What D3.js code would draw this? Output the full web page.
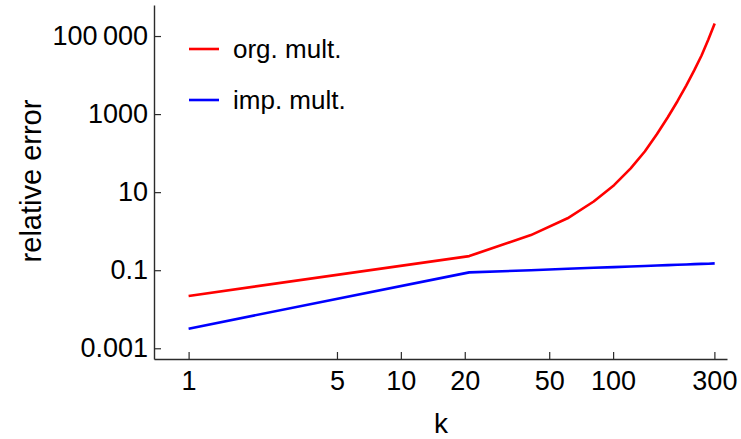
<!DOCTYPE html>
<html>
<head>
<meta charset="utf-8">
<script src="https://cdn.jsdelivr.net/npm/d3@7"></script>
<style>
  html, body { margin: 0; padding: 0; background: #fff; }
  svg { display: block; font-family: "Liberation Sans", Arial, Helvetica, sans-serif; }
</style>
</head>
<body>
<svg id="chart" width="741" height="439"></svg>
<script>
// k values at which the relative error was evaluated
const kValues = [1, 21, 41, 61, 81, 101, 121, 141, 161, 181, 201, 221, 241, 261, 281, 301];

// relative error of the original multiplication
const orgMult = [0.0219, 0.23, 0.794, 2.14, 5.75, 15.1, 40.7, 110, 309, 832, 2138, 5370, 13180, 31620, 81280, 208900];

// relative error of the improved multiplication
const impMult = [0.00318, 0.088, 0.100, 0.109, 0.1156, 0.120, 0.125, 0.128, 0.132, 0.135, 0.138, 0.140, 0.143, 0.145, 0.147, 0.150];

const xTicks = [1, 5, 10, 20, 50, 100, 300];
const yTicks = [0.001, 0.1, 10, 1000, 100000];
const yTickLabels = ["0.001", "0.1", "10", "1000", "100\u2009000"];

const seriesNames = ["org. mult.", "imp. mult."];
const seriesColors = ["#ff0000", "#0000ff"];

const svg = d3.select("#chart");
const axisColor = "#2b2b2b";

const x = d3.scaleLog().domain([0.687, 344]).range([154, 727]);
const y = d3.scaleLog().domain([Math.pow(10, -3.275), Math.pow(10, 5.795)]).range([359, 5]);

// x axis, ticks pointing into the plot
const xAxis = svg.append("g")
  .attr("transform", "translate(0,359)")
  .call(d3.axisBottom(x).tickValues(xTicks).tickFormat(d3.format("d"))
    .tickSizeInner(-7).tickSizeOuter(0).tickPadding(12));

// y axis, ticks pointing into the plot
const yAxis = svg.append("g")
  .attr("transform", "translate(154,0)")
  .call(d3.axisLeft(y).tickValues(yTicks).tickFormat((d, i) => yTickLabels[i])
    .tickSizeInner(-7).tickSizeOuter(0).tickPadding(6));

[xAxis, yAxis].forEach(g => {
  g.select(".domain").attr("stroke", axisColor).attr("stroke-width", 1.4);
  g.selectAll(".tick line").attr("stroke", axisColor).attr("stroke-width", 1.2);
  g.selectAll(".tick text").attr("fill", "#000").style("font-size", "27px")
    .style("font-family", "\"Liberation Sans\", Arial, sans-serif");
});

// axis titles
svg.append("text")
  .attr("x", 441).attr("y", 433)
  .attr("text-anchor", "middle")
  .style("font-size", "28px")
  .text("k");

svg.append("text")
  .attr("transform", "translate(41,181) rotate(-90)")
  .attr("text-anchor", "middle")
  .style("font-size", "29px")
  .text("relative error");

// data lines
const line = d3.line()
  .x(d => x(d[0]))
  .y(d => y(d[1]));

[orgMult, impMult].forEach((vals, i) => {
  svg.append("path")
    .datum(kValues.map((k, j) => [k, vals[j]]))
    .attr("fill", "none")
    .attr("stroke", seriesColors[i])
    .attr("stroke-width", 2.6)
    .attr("stroke-linejoin", "round")
    .attr("d", line);
});

// legend
const legendY = [49, 100];
seriesNames.forEach((name, i) => {
  const g = svg.append("g").attr("transform", `translate(189,${legendY[i]})`);
  g.append("line").attr("x1", 0).attr("x2", 30).attr("y1", 0).attr("y2", 0)
    .attr("stroke", seriesColors[i]).attr("stroke-width", 2.6);
  g.append("text").attr("x", 44).attr("y", 0).attr("dy", "0.35em")
    .style("font-size", "26px").text(name);
});
</script>
</body>
</html>
